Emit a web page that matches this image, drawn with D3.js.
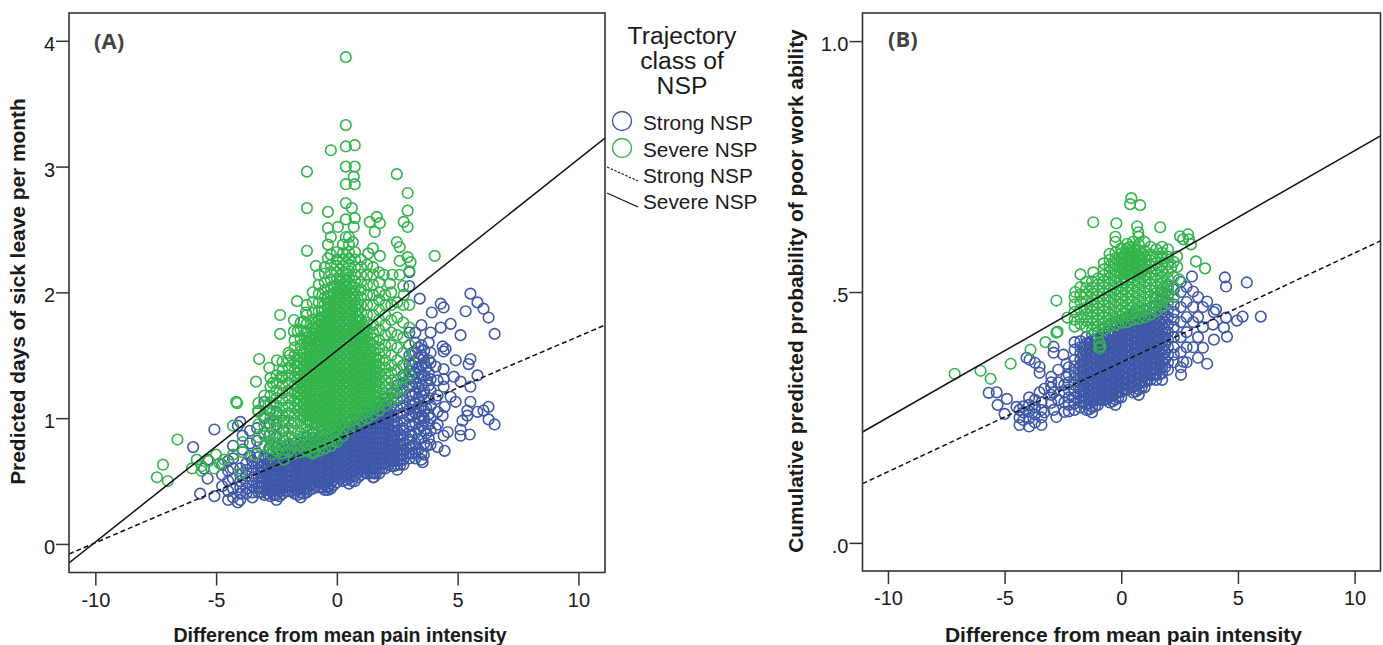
<!DOCTYPE html>
<html><head><meta charset="utf-8">
<style>html,body{margin:0;background:#fff}svg{display:block}text{font-family:"Liberation Sans",Arial,sans-serif;fill:#1a1a1a}</style>
<script src="https://cdn.jsdelivr.net/npm/d3@7/dist/d3.min.js"></script>
</head><body><svg id="c" width="1383" height="645"></svg>
<script>
// Each row: [x, y, y, y...].
const xTicks=[-10,-5,0,5,10];
const yTicksA=[0,1,2,3,4];
const yTicksB=[0,.5,1];
const xTitle="Difference from mean pain intensity";
const yTitleA="Predicted days of sick leave per month";
const yTitleB="Cumulative predicted probability of poor work ability";
const legendLabels=["Strong NSP","Severe NSP","Strong NSP","Severe NSP"];
const legendTitle=["Trajectory","class of","NSP"];
const fitA={severe:[-.151,3.227],strong:[-.08,1.74]};
const fitB={severe:[.221,.811],strong:[.118,.602]};

const strongA=[
[-5.95,.77],[-5.07,.91,.38],[-4,.97],[-4.1,.33,.94],[-3,1.13],[-5.66,.4],[-5.35,.52,.67],[-5.5,.6],[-4.5,.35,.42,.5,.58,.66],[-4.75,.46,.55,.63],
[-4.3,.37,.44,.52,.6,.68,.78],[-3.9,.86,.75],[-3.6,.9,.8,.7],[-3.3,.92,.82,.72],[-3,1,.88,.78,.7],[-2.8,1.06,.96,.86,.76],[-2.5,1.05,.95,.85,.77],[-2.2,.98,.9,.82],
[-4,.35,.40,.45,.50,.55,.6],[-3.75,.40,.44,.49,.54,.59,.64],[-3.5,.37,.41,.46,.51,.56,.61,.66],[-3.25,.41,.45,.49,.54,.59,.64,.69],
[-3,.39,.43,.47,.51,.55,.59,.63,.68],[-2.75,.38,.42,.46,.50,.54,.58,.62,.66,.71],[-2.5,.35,.39,.43,.47,.51,.55,.59,.63,.67,.72],
[-2.25,.40,.44,.48,.52,.56,.60,.64,.68,.72,.76],[-2,.42,.46,.50,.54,.58,.62,.66,.70,.74,.78],[-1.75,.40,.44,.48,.52,.56,.60,.64,.68,.72,.76,.80],
[-1.5,.37,.41,.45,.49,.53,.57,.61,.65,.69,.73,.77,.81],[-1.25,.41,.45,.49,.53,.57,.61,.65,.69,.73,.77,.81,.85],[-1,.44,.48,.52,.56,.60,.64,.68,.72,.76,.80,.84,.88],
[-.75,.45,.49,.53,.57,.61,.65,.69,.73,.77,.81,.85],[-.5,.43,.47,.51,.55,.59,.63,.67,.71,.75,.79,.83,.87],[-.37,.43,.46,.5,.54,.58,.62,.66,.7],
[-.25,.44,.48,.52,.56,.60,.64,.68,.72,.76,.80,.84,.88],[0,.49,.53,.57,.61,.65,.69,.73,.77,.81,.85,.89,.93],[.25,.50,.54,.58,.62,.66,.70,.74,.78,.82,.86,.9,.94],
[.5,.48,.52,.56,.60,.64,.68,.72,.76,.80,.84,.88,.92,.96],[.75,.50,.54,.58,.62,.66,.70,.74,.78,.82,.86,.9,.94,.98],[1,.55,.59,.63,.67,.71,.75,.79,.83,.87,.91,.95,.99,1.03],
[1.25,.56,.60,.64,.68,.72,.76,.80,.84,.88,.92,.96,1,1.04],[1.5,.53,.57,.61,.65,.69,.73,.77,.81,.85,.89,.93,.97,1.01,1.05,1.09],[1.53,.53,.56,.6,.64,.68,.72],
[1.75,.56,.60,.64,.68,.72,.76,.80,.84,.88,.92,.96,1,1.04,1.08,1.12],[2,.60,.64,.68,.72,.76,.80,.84,.88,.92,.96,1,1.04,1.08,1.12,1.16],
[2.25,.62,.66,.70,.74,.78,.82,.86,.90,.95,1,1.05,1.1,1.15,1.2],[2.5,.59,.63,.67,.71,.75,.79,.84,.9,.96,1.02,1.08,1.14,1.2,1.26],
[2.75,.63,.67,.71,.75,.8,.86,.92,.98,1.04,1.1,1.16,1.22,1.28,1.34,1.42],[3,.68,.72,.77,.83,.89,.95,1.01,1.07,1.13,1.19,1.25,1.31,1.37,1.43,1.5,1.58,1.68,2.05,2.16],
[3.25,.68,.73,.8,.88,.96,1.04,1.12,1.2,1.28,1.36,1.44,1.52,1.6,1.68],[3.5,.67,.72,.84,.94,1.02,1.1,1.18,1.26,1.34,1.42,1.5,1.58,1.74],
[3.43,1.95],[3.88,.79,.9,1,1.1,1.22,1.31,1.44,1.52,1.68],[3.93,1.84],[4.3,1.91,1.72],[4.42,1.88,1.53,1.39,1.31,1.25,.86],[4.71,1.75,1.17],[5.12,1.66,1.29,.91,.86],
[4.38,1.57,1.02],[4.5,1.55],[4.92,1.46,1.13],[5.53,1.47,1.25,1.13,1.99],[5.45,1.43],[5.82,1.34,1.92,1.05],[4.84,1.33],[5.4,1.06,1.02],[5.2,.98],[6.07,1.06,1.87],[6.28,1.09,.99,1.8],
[6.53,.95,1.67],[5.5,.87],[5.33,1.85],[4.59,.89],[4.46,.74,1.09],[4.17,.77,.95,1.05,1.18,1.3],[4.09,1.41,1.15,.92],[3.6,.71,1.0,1.2,1.48],[3.55,.65],[3.7,.78,.88,1.08,1.3,1.4],
[3.12,.72,.78,.86,.94,1.02,1.1,1.18,1.26,1.34,1.42,1.52],[3.37,.75,.83,.91,1,1.08,1.16,1.24,1.32,1.4,1.48,1.56],[3.62,.8,.9,.98,1.06,1.14,1.22,1.34,1.44,1.54],[3.8,.84,.95,1.03,1.16,1.26,1.36,1.46,1.6]
];
const strongAFill=[
[-3.125,.41,.45,.49,.53,.57,.61],[-2.875,.4,.44,.48,.52,.56,.6,.64],[-2.625,.39,.43,.47,.51,.55,.59,.63,.67],[-2.375,.38,.42,.46,.5,.54,.58,.62,.66,.7],
[-2.125,.42,.46,.5,.54,.58,.62,.66,.7,.74],[-1.875,.42,.46,.5,.54,.58,.62,.66,.7,.74],[-1.625,.39,.43,.47,.51,.55,.59,.63,.67,.71,.75],[-1.375,.4,.44,.48,.52,.56,.6,.64,.68,.72,.76],
[-1.125,.43,.47,.51,.55,.59,.63,.67,.71,.75,.79],[-.875,.46,.5,.54,.58,.62,.66,.7,.74,.78],[-.625,.45,.49,.53,.57,.61,.65,.69,.73,.77,.81],[-.375,.45,.49,.53,.57,.61,.65,.69,.73,.77,.81],
[-.125,.47,.51,.55,.59,.63,.67,.71,.75,.79,.83],[.125,.52,.56,.6,.64,.68,.72,.76,.8,.84,.88],[.375,.51,.55,.59,.63,.67,.71,.75,.79,.83,.87,.91],[.625,.5,.54,.58,.62,.66,.7,.74,.78,.82,.86,.9,.94],
[.875,.53,.57,.61,.65,.69,.73,.77,.81,.85,.89,.93,.97],[1.125,.57,.61,.65,.69,.73,.77,.81,.85,.89,.93,.97],[1.375,.56,.6,.64,.68,.72,.76,.8,.84,.88,.92,.96,1],[1.625,.56,.6,.64,.68,.72,.76,.8,.84,.88,.92,.96,1,1.04],
[1.875,.6,.64,.68,.72,.76,.8,.84,.88,.92,.96,1,1.04,1.08],[2.125,.63,.67,.71,.75,.79,.83,.87,.91,.95,.99,1.03],[2.375,.62,.66,.7,.74,.78,.82,.86,.9,.94,.98],[2.625,.63,.67,.71,.75,.79,.83,.87]
];

const severeA=[
[.37,3.87,3.33,3.16,3,2.86,2.71,2.58,2.44],[-.25,3.13,2.44],[.74,3.17,3,2.86,2.59],[.7,2.92,2.52],[-1.24,2.96,2.67,2.33],[2.48,2.94,2.4],[2.93,2.79,2.65,2.52,2.28],[2.77,2.56,1.98],
[-.37,2.64,2.51,2.38,2.27],[.62,2.67],[1.36,2.56],[1.65,2.6],[1.78,2.55,2.29],[1.57,2.48],[4.05,2.29],[.04,2.52],[.66,2.4],[1.49,2.35],[1.3,2.31],[3.05,2.24],[2.6,2.36,2.25,2.14],[3,2.17],[2.3,2.14],[1.94,2.14],[2.2,2.07],[-.87,2.21],
[-1.65,1.93],[-2.35,1.82,1.67],[-1.28,1.84,1.68],[-1.78,1.78,1.69],[-1.37,1.77],[-1.62,1.69],[-1.2,1.61],[-1.95,1.5],[-3.22,1.47],[-2.48,1.46],[-2.8,1.4],[-3.35,1.29],[-2.65,1.28],[-2.3,1.33],[-2.0,1.4],
[-4.17,1.13],[-4.13,1.12],[-3.26,1.06],[-4.3,.94,.71],[-6.6,.83],[-7.2,.63],[-7.45,.53],[-7,.5],[-6,.6],[-5.6,.58,.62],[-5.07,.6],[-5,.71],[-4.67,.67],[-4,.56],[-3.9,.81,.73],[-3.4,.71],[-2.7,.79,.71],[-2.2,.67],[-.12,.82],[-.95,.73],[-5.3,.66],[-5.8,.67],[-4.85,.64],
[-3.25,.85,.95,1.05,1.12],[-3,.78,.86,.94,1.02,1.1,1.18],[-2.75,.76,.82,.88,.94,1,1.06,1.12,1.18,1.25,1.32],[-2.5,.74,.8,.86,.92,.98,1.04,1.1,1.16,1.22,1.28,1.34],
[-2.25,.72,.78,.84,.9,.96,1.02,1.08,1.14,1.2,1.26,1.32,1.38,1.45],[-2,.74,.8,.86,.92,.98,1.04,1.1,1.16,1.22,1.28,1.34,1.4,1.46,1.52],
[-1.75,.72,.78,.84,.9,.96,1.02,1.08,1.14,1.2,1.26,1.32,1.38,1.44,1.5,1.56,1.62],[-1.5,.73,.78,.83,.88,.93,.98,1.03,1.08,1.13,1.18,1.23,1.28,1.33,1.38,1.43,1.48,1.53,1.58,1.63,1.7,1.76],
[-1.25,.74,.79,.84,.89,.94,.99,1.04,1.09,1.14,1.19,1.24,1.29,1.34,1.39,1.44,1.49,1.54,1.59,1.64,1.69,1.75,1.82,1.9],
[-1,.72,.77,.82,.87,.92,.97,1.02,1.07,1.12,1.17,1.22,1.27,1.32,1.37,1.42,1.47,1.52,1.57,1.62,1.67,1.72,1.78,1.84,1.92,2],
[-.75,.74,.79,.84,.89,.94,.99,1.04,1.09,1.14,1.19,1.24,1.29,1.34,1.39,1.44,1.49,1.54,1.59,1.64,1.69,1.74,1.79,1.85,1.92,1.99,2.06,2.14],
[-.5,.76,.81,.86,.91,.96,1.01,1.06,1.11,1.16,1.21,1.26,1.31,1.36,1.41,1.46,1.51,1.56,1.61,1.66,1.71,1.76,1.81,1.86,1.91,1.96,2.02,2.08,2.15,2.2],
[-.25,.78,.83,.88,.93,.98,1.03,1.08,1.13,1.18,1.23,1.28,1.33,1.38,1.43,1.48,1.53,1.58,1.63,1.68,1.73,1.78,1.83,1.88,1.93,1.98,2.04,2.1,2.16,2.22,2.3],
[0,.81,.86,.91,.96,1.01,1.06,1.11,1.16,1.21,1.26,1.31,1.36,1.41,1.46,1.51,1.56,1.61,1.66,1.71,1.76,1.81,1.86,1.91,1.96,2.01,2.06,2.11,2.16,2.21,2.26,2.32],
[.25,.86,.91,.96,1.01,1.06,1.11,1.16,1.21,1.26,1.31,1.36,1.41,1.46,1.51,1.56,1.61,1.66,1.71,1.76,1.81,1.86,1.91,1.96,2.01,2.06,2.11,2.16,2.21,2.26,2.31,2.38],
[.5,.92,.97,1.02,1.07,1.12,1.17,1.22,1.27,1.32,1.37,1.42,1.47,1.52,1.57,1.62,1.67,1.72,1.77,1.82,1.87,1.92,1.97,2.02,2.07,2.12,2.17,2.22,2.27,2.32,2.38,2.44],
[.75,.94,.99,1.04,1.09,1.14,1.19,1.24,1.29,1.34,1.39,1.44,1.49,1.54,1.59,1.64,1.69,1.74,1.79,1.84,1.89,1.94,1.99,2.04,2.09,2.14,2.2,2.26,2.32],
[1,.98,1.03,1.08,1.13,1.18,1.23,1.28,1.33,1.38,1.43,1.48,1.53,1.58,1.63,1.68,1.73,1.78,1.84,1.9,1.96,2.02,2.08,2.14,2.2,2.26],
[1.25,1,1.05,1.1,1.15,1.2,1.25,1.3,1.35,1.4,1.45,1.5,1.55,1.6,1.65,1.7,1.76,1.82,1.9,1.98,2.06,2.14,2.22],
[1.5,1.03,1.08,1.13,1.18,1.23,1.28,1.33,1.38,1.43,1.48,1.53,1.58,1.63,1.68,1.74,1.82,1.9,1.98,2.06,2.14,2.2],
[1.75,1.06,1.11,1.16,1.21,1.26,1.31,1.36,1.41,1.46,1.51,1.56,1.62,1.7,1.78,1.86,1.94,2,2.08,2.16],
[2,1.1,1.15,1.2,1.25,1.3,1.35,1.4,1.46,1.52,1.58,1.66,1.74,1.82,1.9,1.98],
[2.25,1.14,1.19,1.24,1.3,1.36,1.42,1.5,1.58,1.68,1.78,1.9,2],
[2.5,1.16,1.22,1.3,1.38,1.46,1.56,1.66,1.8,1.92],
[2.75,1.24,1.32,1.42,1.52,1.64,1.76,1.9,2.05],[3,1.34,1.46,1.58,1.72,1.9]
];
const severeAFill=[
[-1.625,1.06,1.11,1.16,1.21,1.26,1.31,1.36,1.41,1.46],[-1.375,1.02,1.07,1.12,1.17,1.22,1.27,1.32,1.37,1.42,1.47,1.52],[-1.125,.98,1.03,1.08,1.13,1.18,1.23,1.28,1.33,1.38,1.43,1.48,1.53,1.58,1.63],
[-.875,.95,1,1.05,1.1,1.15,1.2,1.25,1.3,1.35,1.4,1.45,1.5,1.55,1.6,1.65,1.7,1.75],[-.625,.9,.95,1,1.05,1.1,1.15,1.2,1.25,1.3,1.35,1.4,1.45,1.5,1.55,1.6,1.65,1.7,1.75,1.8,1.85],
[-.375,.92,.97,1.02,1.07,1.12,1.17,1.22,1.27,1.32,1.37,1.42,1.47,1.52,1.57,1.62,1.67,1.72,1.77,1.82,1.87,1.92,1.97],[-.125,.94,.99,1.04,1.09,1.14,1.19,1.24,1.29,1.34,1.39,1.44,1.49,1.54,1.59,1.64,1.69,1.74,1.79,1.84,1.89,1.94,1.99,2.04],
[.125,.95,1,1.05,1.1,1.15,1.2,1.25,1.3,1.35,1.4,1.45,1.5,1.55,1.6,1.65,1.7,1.75,1.8,1.85,1.9,1.95,2,2.05,2.1],[.375,1,1.05,1.1,1.15,1.2,1.25,1.3,1.35,1.4,1.45,1.5,1.55,1.6,1.65,1.7,1.75,1.8,1.85,1.9,1.95,2,2.05,2.1,2.15],
[.625,1.04,1.09,1.14,1.19,1.24,1.29,1.34,1.39,1.44,1.49,1.54,1.59,1.64,1.69,1.74,1.79,1.84,1.89,1.94,1.99,2.04],[.875,1.06,1.11,1.16,1.21,1.26,1.31,1.36,1.41,1.46,1.51,1.56,1.61,1.66,1.71,1.76,1.81,1.86,1.91],
[1.125,1.08,1.13,1.18,1.23,1.28,1.33,1.38,1.43,1.48,1.53,1.58,1.63,1.68,1.73],[1.375,1.1,1.15,1.2,1.25,1.3,1.35,1.4,1.45,1.5,1.55,1.6],[1.625,1.12,1.17,1.22,1.27,1.32,1.37,1.42,1.47]
];

const strongB=[
[-5.68,.299],[-5.34,.30],[-5.3,.275],[-4.9,.287],[-5,.257],[-4.49,.271],[-4.36,.235,.25,.265],[-4.2,.245,.26,.272],[-3.95,.232,.248,.262,.275,.29],[-3.7,.24,.256,.27,.285,.359],[-3.42,.235,.25,.265,.28],[-3.5,.351,.339,.3],
[-4.06,.369],[-3.93,.365],[-3,.331,.279,.295,.31,.32],[-2.9,.391,.379,.3,.265],[-2.48,.375],[-2.35,.357,.33],[-2.7,.345,.32,.285],[-3.3,.307,.26],[-2.78,.251],[-2.44,.261,.28,.3,.315],
[3.03,.531],[4.44,.529],[4.49,.511,.449],[5.38,.519],[5.2,.451],[4.96,.443],[5.98,.451],[4.4,.429],[4.53,.411],[3.97,.405,.46],[3.93,.435],[4.06,.465],[3.68,.481,.357],[3.5,.389,.43,.47],[3.29,.369,.41,.45,.49],[2.56,.335],[2.65,.361],[3.08,.501,.44,.47,.39],[2,.511],[2.8,.36,.39,.42,.45,.48,.51],[2.55,.35,.38,.41,.44,.47,.5,.52],
[-2.25,.262,.275,.29,.305,.32,.335,.35],[-2,.265,.278,.29,.302,.315,.328,.34,.352,.365,.385,.40],[-1.75,.27,.282,.294,.306,.318,.33,.342,.354,.366,.378,.39,.402],
[-1.5,.265,.276,.287,.298,.309,.32,.331,.342,.353,.364,.375,.386,.397,.41],[-1.25,.26,.271,.282,.293,.304,.315,.326,.337,.348,.359,.37,.381,.392,.403,.414],
[-1,.275,.286,.297,.308,.319,.33,.341,.352,.363,.374,.385,.396,.407,.42],[-.75,.285,.296,.307,.318,.329,.34,.351,.362,.373,.384,.395,.406,.417,.428],
[-.5,.28,.291,.302,.313,.324,.335,.346,.357,.368,.379,.39,.401,.412,.423,.434],[-.25,.275,.286,.297,.308,.319,.33,.341,.352,.363,.374,.385,.396,.407,.418,.429,.44],
[0,.29,.301,.312,.323,.334,.345,.356,.367,.378,.389,.4,.411,.422,.433,.444],[.25,.305,.316,.327,.338,.349,.36,.371,.382,.393,.404,.415,.426,.437,.448],
[.5,.30,.311,.322,.333,.344,.355,.366,.377,.388,.399,.41,.421,.432,.443,.454],[.75,.295,.306,.317,.328,.339,.35,.361,.372,.383,.394,.405,.416,.427,.438,.449,.46],
[1,.31,.321,.332,.343,.354,.365,.376,.387,.398,.409,.42,.431,.442,.453,.464],[1.25,.325,.336,.347,.358,.369,.38,.391,.402,.413,.424,.435,.446,.457,.468],
[1.5,.325,.336,.347,.358,.369,.38,.391,.402,.413,.424,.436,.448,.46,.472,.49],[1.75,.325,.338,.35,.362,.374,.386,.398,.41,.422,.434,.446,.458,.47,.485,.5],
[2,.345,.36,.375,.39,.405,.42,.435,.45,.465,.48,.495],[2.25,.36,.375,.39,.41,.43,.445,.46,.475,.49,.505]
];
const strongBFill=[
[-1.625,.28,.292,.304,.316,.328,.34,.352,.364,.376,.388],[-1.375,.266,.278,.29,.302,.314,.326,.338,.35,.362,.374,.386,.398],[-1.125,.272,.284,.296,.308,.32,.332,.344,.356,.368,.38,.392,.404],
[-.875,.285,.297,.309,.321,.333,.345,.357,.369,.381,.393,.405],[-.625,.288,.3,.312,.324,.336,.348,.36,.372,.384,.396,.408],[-.375,.282,.294,.306,.318,.33,.342,.354,.366,.378,.39,.402,.414],
[-.125,.29,.302,.314,.326,.338,.35,.362,.374,.386,.398,.41,.422],[.125,.305,.317,.329,.341,.353,.365,.377,.389,.401,.413,.425],[.375,.31,.322,.334,.346,.358,.37,.382,.394,.406,.418,.43],
[.625,.302,.314,.326,.338,.35,.362,.374,.386,.398,.41,.422,.434],[.875,.31,.322,.334,.346,.358,.37,.382,.394,.406,.418,.43,.442],[1.125,.325,.337,.349,.361,.373,.385,.397,.409,.421,.433,.445],
[1.375,.335,.347,.359,.371,.383,.395,.407,.419,.431,.443,.455],[1.625,.335,.347,.359,.371,.383,.395,.407,.419,.431,.443],[1.875,.35,.365,.38,.395,.41,.425,.44,.455]
];

const severeB=[
[-7.14,.337],[-6.03,.343],[-5.6,.327],[-4.74,.357],[-3.89,.385],[-3.25,.40],[-2.78,.419,.483],[-2.73,.421],[-1.2,.639,.539],[-.21,.637],[.43,.687],[.38,.675],[.81,.673],[.68,.631],[.73,.619],[1.67,.629],
[2.52,.611],[2.86,.615],[2.65,.605],[2.99,.595],[2.9,.605],[3.2,.561],[3.59,.547],[2.48,.525],[2.4,.55],[2.14,.549],[2.39,.571],[-1.75,.535],[-1.97,.50],[-2.31,.449],[-.94,.399,.388],[-.9,.392],
[-2,.431,.445,.46,.475,.49],[-1.75,.436,.45,.465,.48,.495,.51],[-1.5,.43,.443,.456,.469,.482,.495,.508,.52],[-1.25,.425,.437,.449,.461,.473,.485,.497,.509,.521],
[-1,.419,.431,.443,.455,.467,.479,.491,.503,.515,.527],[-.75,.425,.437,.449,.461,.473,.485,.497,.509,.521,.533,.545,.557],[-.5,.432,.444,.456,.468,.48,.492,.504,.516,.528,.54,.552,.564,.576],
[-.25,.435,.447,.459,.471,.483,.495,.507,.519,.531,.543,.555,.567,.579,.6,.61],[0,.439,.451,.463,.475,.487,.499,.511,.523,.535,.547,.557,.567,.577,.587],[.25,.44,.452,.464,.476,.488,.5,.512,.524,.536,.546,.556,.566,.576,.586,.596],
[.5,.445,.457,.469,.481,.493,.505,.517,.529,.539,.549,.559,.569,.579,.589,.6],[.75,.447,.459,.471,.483,.495,.507,.519,.531,.543,.553,.563,.573,.583,.595,.61],[1,.45,.462,.474,.486,.498,.51,.522,.534,.546,.558,.57,.582,.6],
[1.25,.455,.467,.479,.491,.503,.515,.527,.539,.551,.563,.575,.59],[1.5,.462,.474,.486,.498,.51,.522,.534,.546,.558,.57,.585],[1.75,.47,.482,.494,.506,.518,.53,.542,.554,.566,.578,.59],[2,.479,.491,.503,.515,.527,.54,.555,.57,.585],[2.25,.49,.51,.53,.56]
];
const severeBFill=[
[.125,.525,.537,.549,.561,.573],[.375,.53,.542,.554,.566,.578,.59],[.625,.535,.547,.559,.571,.583],[.875,.54,.552,.564,.576]
];

const W=1383,H=645,svg=d3.select("#c");
const blue="#3f58a8",green="#33b44c";
const panels=[
 {rows:[strongA.concat(strongAFill),severeA.concat(severeAFill)],fit:fitA,x:d3.scaleLinear([-11.09,11.1],[69,605]),y:d3.scaleLinear([-.227,4.221],[572.5,13]),yTicks:yTicksA,fmt:d3.format("d"),tag:"(A)",tagX:94,tagY:49,tFont:19.6,yT:yTitleA,yTx:25,yTy:291.5,xTx:340,yFont:20.9},
 {rows:[strongB.concat(strongBFill),severeB.concat(severeBFill)],fit:fitB,x:d3.scaleLinear([-11.09,11.11],[862.5,1380.5]),y:d3.scaleLinear([-.056,1.056],[571,13]),yTicks:yTicksB,fmt:d=>d===1?"1.0":d===.5?".5":".0",tag:"(B)",tagX:888,tagY:47,tFont:21,yT:yTitleB,yTx:803,yTy:291,xTx:1123.5,yFont:20.9}
];
const expand=rows=>rows.flatMap(r=>r.slice(1).map(v=>[r[0],v]));
panels.forEach((p,i)=>{
  const g=svg.append("g");
  const clip="clip"+i;
  svg.append("clipPath").attr("id",clip).append("rect").attr("x",p.x.range()[0]).attr("y",p.y.range()[1]).attr("width",p.x.range()[1]-p.x.range()[0]).attr("height",p.y.range()[0]-p.y.range()[1]);
  const plot=g.append("g").attr("clip-path",`url(#${clip})`);
  [[0,blue],[1,green]].forEach(([k,c])=>{
    plot.append("g").selectAll("circle").data(expand(p.rows[k])).join("circle")
      .attr("cx",d=>p.x(d[0])).attr("cy",d=>p.y(d[1])).attr("r",5.3).attr("fill","none").attr("stroke",c).attr("stroke-width",1.6);
  });
  const [x0,x1]=p.x.domain();
  [["severe",null],["strong","5 3"]].forEach(([k,dash])=>{
    plot.append("line").attr("x1",p.x(x0)).attr("x2",p.x(x1)).attr("y1",p.y(p.fit[k][0])).attr("y2",p.y(p.fit[k][1]))
      .attr("stroke","#111").attr("stroke-width",1.5).attr("stroke-dasharray",dash);
  });
  g.append("rect").attr("x",p.x.range()[0]).attr("y",p.y.range()[1]).attr("width",p.x.range()[1]-p.x.range()[0]).attr("height",p.y.range()[0]-p.y.range()[1]).attr("fill","none").attr("stroke","#333").attr("stroke-width",1.6);
  const ax=g.append("g").attr("transform",`translate(0,${p.y.range()[0]})`).call(d3.axisBottom(p.x).tickValues(xTicks).tickSize(13).tickPadding(7).tickFormat(d=>String(d)));
  const ay=g.append("g").attr("transform",`translate(${p.x.range()[0]},0)`).call(d3.axisLeft(p.y).tickValues(p.yTicks).tickSize(13).tickPadding(1).tickFormat(p.fmt));
  [ax,ay].forEach(a=>{a.select(".domain").remove();a.selectAll("line").attr("stroke","#333").attr("stroke-width",1.5);a.selectAll("text").style("font-size","20px").style("font-family","'Liberation Sans',Arial,sans-serif").attr("fill","#222");});
  ay.selectAll("text").attr("dy","0.68em").attr("y",-4);
  ax.selectAll("text").attr("dy","0.71em");
  g.append("text").attr("x",p.tagX).attr("y",p.tagY).text(p.tag).style("font-family","'Open Sans',sans-serif").style("font-weight",700).style("font-size","22px").style("fill","#444");
  g.append("text").attr("x",p.xTx).attr("y",642).attr("text-anchor","middle").text(xTitle).style("font-weight",700).style("font-size",p.tFont+"px");
  g.append("text").attr("transform",`translate(${p.yTx},${p.yTy}) rotate(-90)`).attr("text-anchor","middle").text(p.yT).style("font-weight",700).style("font-size",p.yFont+"px");
});
// legend
const lg=svg.append("g");
lg.selectAll("text.t").data(legendTitle).join("text").attr("class","t").attr("x",682).attr("y",(d,i)=>44+i*25).attr("text-anchor","middle").style("font-size","24.7px").text(d=>d);
lg.selectAll("text.l").data(legendLabels).join("text").attr("class","l").attr("x",643).attr("y",(d,i)=>[130,157,183,209][i]).style("font-size","20.8px").text(d=>d);
[[121,blue],[148,green]].forEach(([y,c])=>lg.append("circle").attr("cx",622).attr("cy",y).attr("r",9.5).attr("fill","none").attr("stroke",c).attr("stroke-width",1.4));
lg.append("line").attr("x1",607).attr("y1",167).attr("x2",638).attr("y2",181).attr("stroke","#111").attr("stroke-width",1.1).attr("stroke-dasharray","2.5 1.5");
lg.append("line").attr("x1",607).attr("y1",193).attr("x2",638).attr("y2",207).attr("stroke","#111").attr("stroke-width",1.2);
</script></body></html>
